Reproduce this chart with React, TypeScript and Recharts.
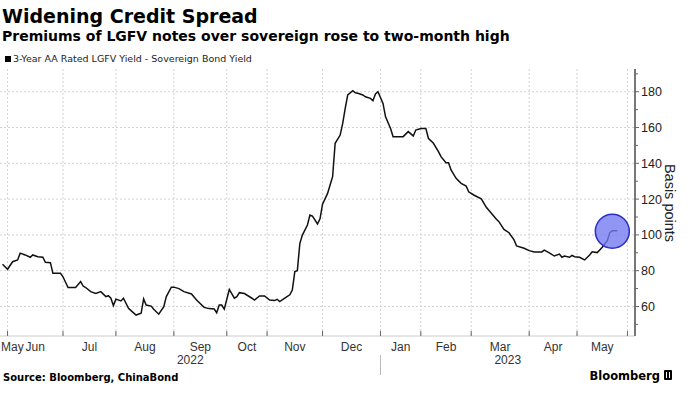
import React from 'react';
import { LineChart, Line, XAxis, YAxis, CartesianGrid, ReferenceDot } from 'recharts';

// trading-day index (x) and spread in basis points (y)
const dayIndex = [
  1, 3, 5, 7, 8, 10, 12, 13, 15, 17, 18, 20, 21, 24, 25, 27, 30, 32, 33, 34,
  36, 38, 40, 42, 43, 44, 45, 46, 48, 49, 51, 52, 54, 56, 57, 58, 60, 61, 63, 65,
  66, 68, 69, 71, 73, 76, 78, 81, 83, 85, 86, 87, 88, 89, 91, 93, 94, 95, 97, 100,
  101, 103, 105, 107, 109, 110, 111, 113, 115, 116, 117, 118, 119, 120, 122, 123, 124, 126, 127, 128,
  130, 131, 132, 133, 135, 136, 137, 138, 140, 141, 142, 144, 145, 147, 148, 149, 150, 152, 153, 155,
  156, 158, 160, 162, 164, 165, 167, 169, 170, 172, 174, 175, 177, 178, 179, 181, 183, 185, 186, 188,
  191, 193, 195, 197, 198, 200, 202, 204, 205, 208, 210, 212, 215, 216, 218, 220, 222, 223, 224, 226,
  227, 228, 230, 232, 234, 235, 237, 238, 239, 241, 242, 243, 245,
];
const spreadBp = [
  83.6, 80.8, 85.0, 86.0, 89.8, 88.8, 87.5, 88.8, 87.8, 87.5, 84.7, 84.5, 78.5, 78.5, 76.6, 70.6, 70.6, 73.9, 71.4, 70.6,
  68.3, 67.3, 68.3, 65.5, 66.0, 64.6, 60.5, 64.1, 63.1, 64.6, 59.0, 57.7, 55.2, 56.2, 64.2, 60.8, 60.2, 58.4, 55.7, 59.9,
  65.5, 70.8, 70.8, 70.0, 68.3, 67.0, 63.6, 59.5, 58.8, 58.6, 56.5, 60.8, 60.8, 58.5, 69.5, 64.6, 65.5, 67.7, 67.2, 64.6,
  63.6, 65.9, 65.9, 63.6, 63.3, 64.0, 62.7, 64.6, 66.5, 69.2, 79.5, 80.0, 95.3, 99.9, 105.5, 111.1, 110.5, 106.1, 109.0, 117.2,
  123.2, 127.9, 132.5, 151.2, 155.8, 162.3, 170.7, 178.2, 180.6, 179.4, 179.1, 178.2, 177.2, 176.3, 175.0, 178.7, 180.0, 173.5, 166.0, 159.5,
  154.9, 154.9, 154.9, 157.7, 155.3, 158.6, 159.5, 159.5, 154.0, 151.2, 146.5, 143.7, 140.3, 140.3, 136.3, 131.6, 128.8, 127.3, 124.1, 122.3,
  120.1, 115.4, 112.1, 108.7, 107.4, 103.1, 101.2, 97.2, 93.8, 92.5, 91.2, 90.4, 90.5, 91.5, 90.0, 88.2, 89.3, 87.5, 88.2, 87.5,
  88.6, 87.8, 87.5, 86.0, 88.8, 90.6, 90.1, 91.6, 93.1, 96.8, 101.2, 102.3, 102.3,
];

const xDomain = [0, 252];
const monthStarts = [3, 25, 46, 69, 90, 106, 128, 151, 167, 187, 210, 229, 249];
const monthNames = ['May', 'Jun', 'Jul', 'Aug', 'Sep', 'Oct', 'Nov', 'Dec', 'Jan', 'Feb', 'Mar', 'Apr', 'May'];
const yearNames = ['2022', '2023'];
const yearBreaks = [0, 151, 252];

const yDomain = [43.5, 192.7];
const yTicks = [50, 60, 70, 80, 90, 100, 110, 120, 130, 140, 150, 160, 170, 180, 190];
const yMajor = [60, 80, 100, 120, 140, 160, 180];

const highlight = { x: 243, y: 102 };

const data = dayIndex.map((d, i) => ({ d, v: spreadBp[i] }));

// month label positions: first at domain start, others mid-month
const monthLabelPos = monthNames.map((_, i) =>
  i === 0 ? xDomain[0] : (monthStarts[i - 1] + monthStarts[i]) / 2
);
const monthLabelMap = new Map(monthLabelPos.map((p, i) => [p, monthNames[i]]));
const yearLabelPos = yearNames.map((_, i) => (yearBreaks[i] + yearBreaks[i + 1]) / 2);
const yearLabelMap = new Map(yearLabelPos.map((p, i) => [p, yearNames[i]]));
const yearSeparators = yearBreaks.slice(1, -1);

const tickFont = '"Liberation Sans", Arial, sans-serif';
const textFont = '"DejaVu Sans", Verdana, sans-serif';

const MonthMark = (props: any) => {
  const { x, y } = props;
  return <line x1={x} x2={x} y1={y} y2={y - 5} stroke="#666" strokeWidth={1} />;
};

const MonthLabel = (props: any) => {
  const { x, y, payload } = props;
  const name = monthLabelMap.get(payload.value);
  const first = payload.value === xDomain[0];
  return (
    <text x={first ? x + 1 : x} y={y + 9} textAnchor={first ? 'start' : 'middle'} fontSize={12} fontFamily={tickFont} fill="#333">
      {name}
    </text>
  );
};

const YearLabel = (props: any) => {
  const { x, y, payload } = props;
  if (yearSeparators.includes(payload.value)) {
    return <line x1={x} x2={x} y1={y - 1} y2={y + 19} stroke="#bbb" strokeWidth={1} />;
  }
  return (
    <text x={x} y={y + 8} textAnchor="middle" fontSize={12} fontFamily={tickFont} fill="#333">
      {yearLabelMap.get(payload.value)}
    </text>
  );
};

const YTick = (props: any) => {
  const { x, y, payload } = props;
  const major = yMajor.includes(payload.value);
  return (
    <g>
      <line x1={x} x2={x + (major ? 4 : 3)} y1={y} y2={y} stroke="#666" strokeWidth={1} />
      {major && (
        <text x={x + 6} y={y + 4.5} textAnchor="start" fontSize={12.5} fontFamily={tickFont} fill="#222">
          {payload.value}
        </text>
      )}
    </g>
  );
};

export default function App() {
  return (
    <div style={{ position: 'absolute', left: 0, top: 0, width: 700, height: 394, background: '#fff' }}>
      <LineChart width={700} height={394} data={data} margin={{ top: 69, right: 0, bottom: 24, left: 0 }}>
        <CartesianGrid
          stroke="#d2d2d2"
          strokeDasharray="2 2"
          horizontalValues={yMajor}
          verticalValues={monthStarts}
        />
        <XAxis
          dataKey="d"
          type="number"
          domain={xDomain}
          ticks={monthStarts}
          interval={0}
          height={6}
          tickSize={0}
          tickMargin={0}
          tickLine={false}
          axisLine={{ stroke: '#cccccc' }}
          tick={(p: any) => <MonthMark {...p} />}
        />
        <XAxis
          xAxisId="m"
          dataKey="d"
          type="number"
          domain={xDomain}
          ticks={monthLabelPos}
          interval={0}
          height={14}
          tickSize={0}
          tickMargin={0}
          tickLine={false}
          axisLine={false}
          tick={(p: any) => <MonthLabel {...p} />}
        />
        <XAxis
          xAxisId="yr"
          dataKey="d"
          type="number"
          domain={xDomain}
          ticks={[...yearLabelPos, ...yearSeparators]}
          interval={0}
          height={14}
          tickSize={0}
          tickMargin={0}
          tickLine={false}
          axisLine={false}
          tick={(p: any) => <YearLabel {...p} />}
        />
        <YAxis
          orientation="right"
          type="number"
          domain={yDomain}
          ticks={yTicks}
          interval={0}
          width={65}
          tickSize={0}
          tickMargin={0}
          tickLine={false}
          axisLine={{ stroke: '#777', strokeWidth: 2 }}
          tick={(p: any) => <YTick {...p} />}
        />
        <ReferenceDot
          x={highlight.x}
          y={highlight.y}
          r={17}
          fill="#767bf0"
          fillOpacity={0.8}
          stroke="#2b2fc8"
          strokeWidth={1.5}
        />
        <Line
          type="linear"
          dataKey="v"
          stroke="#111"
          strokeWidth={1.5}
          dot={false}
          isAnimationActive={false}
        />
      </LineChart>
      <svg width={700} height={394} style={{ position: 'absolute', left: 0, top: 0, pointerEvents: 'none' }}>
        <text x={2} y={23} fontFamily={textFont} fontWeight="bold" fontSize={19} fill="#000">
          Widening Credit Spread
        </text>
        <text x={2} y={41} fontFamily={textFont} fontWeight="bold" fontSize={14} fill="#000">
          Premiums of LGFV notes over sovereign rose to two-month high
        </text>
        <rect x={5} y={56} width={6} height={6} fill="#000" />
        <text x={13} y={62} fontFamily={textFont} fontSize={9.5} fill="#222">
          3-Year AA Rated LGFV Yield - Sovereign Bond Yield
        </text>
        <text
          x={670}
          y={203}
          transform="rotate(90 670 203)"
          textAnchor="middle"
          dominantBaseline="central"
          fontFamily={tickFont}
          fontSize={14.5}
          fill="#222"
        >
          Basis points
        </text>
        <text x={3} y={381} fontFamily={textFont} fontWeight="bold" fontSize={10} fill="#000">
          Source: Bloomberg, ChinaBond
        </text>
        <text x={660} y={380} textAnchor="end" fontFamily={textFont} fontWeight="bold" fontSize={11.5} fill="#000">
          Bloomberg
        </text>
        <rect x={664} y={370} width={8} height={10} rx={1} fill="#000" />
        <line x1={666.5} x2={666.5} y1={372} y2={378} stroke="#fff" strokeWidth={1} />
        <line x1={669.5} x2={669.5} y1={372} y2={378} stroke="#fff" strokeWidth={1} />
      </svg>
    </div>
  );
}
